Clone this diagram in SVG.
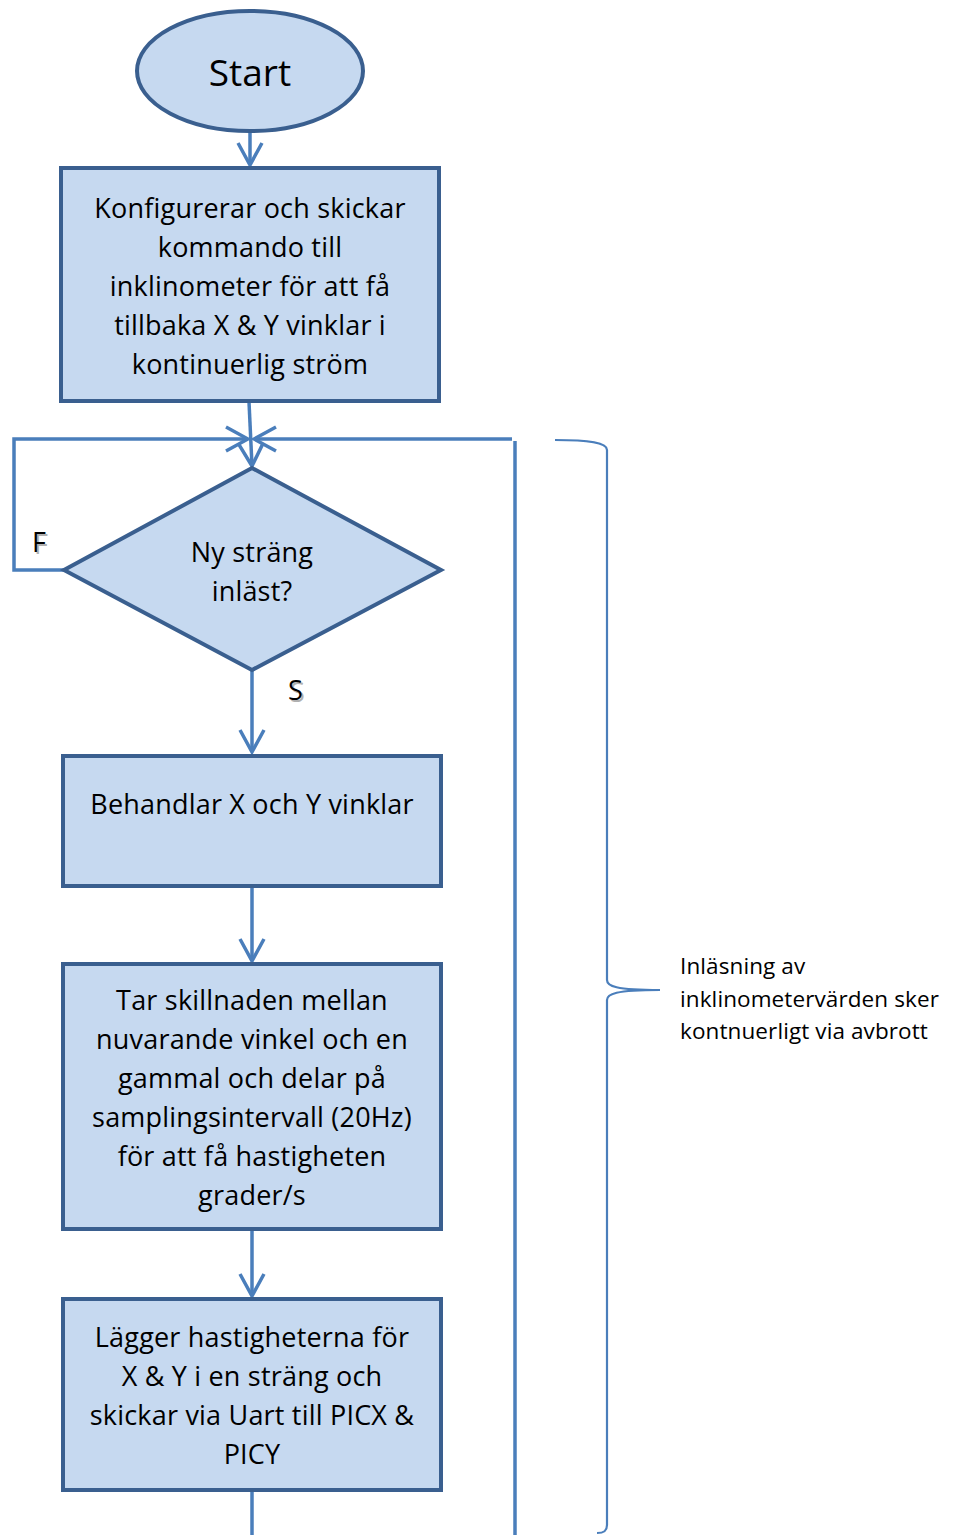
<svg xmlns="http://www.w3.org/2000/svg" width="955" height="1535" viewBox="0 0 955 1535">
  <defs>
    <marker id="arrow" markerUnits="userSpaceOnUse" markerWidth="30" markerHeight="30" viewBox="0 0 30 30" refX="27" refY="15" orient="auto">
      <path d="M5,3 L27,15 L5,27" fill="none" stroke="#4a7ebb" stroke-width="3.5" stroke-linejoin="miter"/>
    </marker>
  </defs>
  <style>
    .shape { fill: #c6d9f0; stroke: #3a5f8f; stroke-width: 4; }
    .conn { fill: none; stroke: #4a7ebb; stroke-width: 3.5; }
    .txt { font-family: "Open Sans", Lato, sans-serif; font-size: 27px; letter-spacing: 0.2px; fill: #000; text-anchor: middle; }
    .lbl { font-family: "Open Sans", Lato, sans-serif; font-size: 27px; fill: #000; }
    .lblshadow { font-family: "Open Sans", Lato, sans-serif; font-size: 27px; fill: #b0b0b0; }
    .note { font-family: "Open Sans", Lato, sans-serif; font-size: 22.5px; letter-spacing: 0.1px; fill: #000; }
    .brace { fill: none; stroke: #4a7ebb; stroke-width: 2.2; }
  </style>

  <rect width="955" height="1535" fill="#ffffff"/>

  <!-- connectors -->
  <g id="connectors">
    <path class="conn" d="M250,131 V165" marker-end="url(#arrow)"/>
    <path class="conn" d="M249,402 L252,466" marker-end="url(#arrow)"/>
    <path class="conn" d="M64,570 H14 V439 H248" marker-end="url(#arrow)"/>
    <path class="conn" d="M515,1535 V441"/>
    <path class="conn" d="M512,439 H254" marker-end="url(#arrow)"/>
    <path class="conn" d="M252,670 V752" marker-end="url(#arrow)"/>
    <path class="conn" d="M252,887 V961" marker-end="url(#arrow)"/>
    <path class="conn" d="M252,1230 V1296" marker-end="url(#arrow)"/>
    <path class="conn" d="M252,1491 V1535"/>
    <text class="lblshadow" x="34" y="554">F</text>
    <text class="lbl" x="32" y="552">F</text>
    <text class="lblshadow" x="290" y="702">S</text>
    <text class="lbl" x="288" y="700">S</text>
  </g>

  <g id="start">
    <ellipse class="shape" cx="250" cy="71" rx="113" ry="60"/>
    <text class="txt" x="250" y="86" style="font-size:37px;letter-spacing:0">Start</text>
  </g>

  <g id="configure">
    <rect class="shape" x="61" y="168" width="378" height="233"/>
    <text class="txt" x="250" y="218">Konfigurerar och skickar</text>
    <text class="txt" x="250" y="257">kommando till</text>
    <text class="txt" x="250" y="296">inklinometer för att få</text>
    <text class="txt" x="250" y="335">tillbaka X &amp; Y vinklar i</text>
    <text class="txt" x="250" y="374">kontinuerlig ström</text>
  </g>

  <g id="decision">
    <polygon class="shape" points="252,468 441,570 252,670 64,570"/>
    <text class="txt" x="252" y="562">Ny sträng</text>
    <text class="txt" x="252" y="601">inläst?</text>
  </g>

  <g id="process-angles">
    <rect class="shape" x="63" y="756" width="378" height="130"/>
    <text class="txt" x="252" y="814">Behandlar X och Y vinklar</text>
  </g>

  <g id="compute-speed">
    <rect class="shape" x="63" y="964" width="378" height="265"/>
    <text class="txt" x="252" y="1010">Tar skillnaden mellan</text>
    <text class="txt" x="252" y="1049">nuvarande vinkel och en</text>
    <text class="txt" x="252" y="1088">gammal och delar på</text>
    <text class="txt" x="252" y="1127">samplingsintervall (20Hz)</text>
    <text class="txt" x="252" y="1166">för att få hastigheten</text>
    <text class="txt" x="252" y="1205">grader/s</text>
  </g>

  <g id="send-uart">
    <rect class="shape" x="63" y="1299" width="378" height="191"/>
    <text class="txt" x="252" y="1347">Lägger hastigheterna för</text>
    <text class="txt" x="252" y="1386">X &amp; Y i en sträng och</text>
    <text class="txt" x="252" y="1425">skickar via Uart till PICX &amp;</text>
    <text class="txt" x="252" y="1464">PICY</text>
  </g>

  <g id="interrupt-note">
    <path class="brace" d="M555,440 C590,440 607,443 607,450 L607,980 C607,986 615,990 660,990 C615,990 607,994 607,1000 L607,1525 C607,1531 604,1533 597,1533"/>
    <text class="note" x="680" y="974">Inläsning av</text>
    <text class="note" x="680" y="1007">inklinometervärden sker</text>
    <text class="note" x="680" y="1039">kontnuerligt via avbrott</text>
  </g>
</svg>
